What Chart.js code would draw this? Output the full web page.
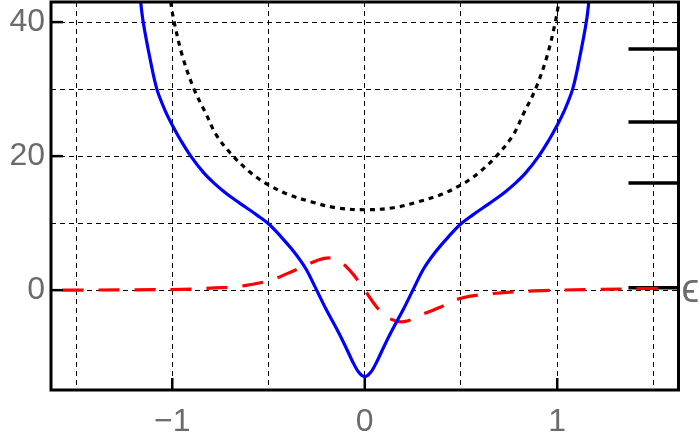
<!DOCTYPE html>
<html>
<head>
<meta charset="utf-8">
<script src="https://cdn.jsdelivr.net/npm/chart.js@4/dist/chart.umd.min.js"></script>
<style>
  html,body{margin:0;padding:0;background:#fff;}
  #wrap{width:700px;height:440px;}
</style>
</head>
<body>
<div id="wrap"><canvas id="c" width="700" height="440"></canvas></div>
<script>
'use strict';

// potential V(x) - solid blue
var potX=[-1.18,-1.164,-1.151,-1.118,-1.08,-1.034,-0.994,-0.961,-0.904,-0.836,-0.78,-0.731,-0.68,-0.62,-0.56,-0.5,-0.436,-0.367,-0.306,-0.255,-0.2,-0.142,-0.1,-0.064,-0.03,0,
          0.03,0.064,0.1,0.142,0.2,0.255,0.306,0.367,0.436,0.5,0.56,0.62,0.68,0.731,0.78,0.836,0.904,0.961,0.994,1.034,1.08,1.118,1.151,1.164,1.18];
var potY=[48,43,40,34.9,30,26.6,24.3,22.6,20,17.5,15.9,14.7,13.6,12.4,11.2,9.9,8.0,5.7,3.2,0.3,-2.9,-6,-8.4,-10.6,-12.3,-12.9,
          -12.3,-10.6,-8.4,-6,-2.9,0.3,3.2,5.7,8.0,9.9,11.2,12.4,13.6,14.7,15.9,17.5,20,22.6,24.3,26.6,30,34.9,40,43,48];

// dotted black curve
var dotX=[-1.02,-1.008,-0.99,-0.947,-0.887,-0.826,-0.77,-0.684,-0.6,-0.54,-0.5,-0.4,-0.28,-0.15,0,
          0.15,0.28,0.4,0.5,0.54,0.6,0.684,0.77,0.826,0.887,0.947,0.99,1.008,1.02];
var dotY=[46,43,40,34.9,30,26.4,23.1,20,17.7,16.4,15.7,14.3,13.2,12.3,12,
          12.3,13.2,14.3,15.7,16.4,17.7,20,23.1,26.4,30,34.9,40,43,46];

// dashed red curve
var redX=[-1.57,-1.2,-0.9,-0.78,-0.68,-0.6,-0.497,-0.4,-0.306,-0.25,-0.185,-0.125,-0.064,0,
          0.064,0.126,0.204,0.3,0.395,0.5,0.67,0.88,1.2,1.57];
var redY=[0,0.05,0.15,0.35,0.45,0.8,1.4,2.5,3.7,4.4,4.8,4.2,2.5,0,
          -2.6,-4.2,-4.7,-3.6,-2.5,-1.2,-0.5,-0.1,0.1,0.3];

// energy levels on the right
var levels=[36,25.1,16,0.35];
var levelX=[1.37,1.63];

var xGrid=[-1.5,-1,-0.5,0,0.5,1,1.5];
var xLabels=[-1,0,1];
var yGrid=[0,10,20,30,40];
var yLabels=[0,20,40];

function pts(xs,ys){return xs.map(function(x,i){return {x:x,y:ys[i]};});}

var FONT='"Liberation Sans", Arial, "DejaVu Sans", sans-serif';
var GRAY='#6b6b6b';

var datasets=[
  {data:pts(potX,potY),borderColor:'#0000ff',borderWidth:3.2,tension:0.35},
  {data:pts(redX,redY),borderColor:'#ff0000',borderWidth:3.2,borderDash:[21,15],tension:0.35},
  {data:pts(dotX,dotY),borderColor:'#000',borderWidth:3.2,borderDash:[5,5],tension:0.35}
];
levels.forEach(function(e){
  datasets.push({data:pts(levelX,[e,e]),borderColor:'#000',borderWidth:3.5,borderCapStyle:'butt'});
});

var frame={
  id:'frame',
  afterDraw:function(ch){
    var a=ch.chartArea,ctx=ch.ctx,xs=ch.scales.x,ys=ch.scales.y;
    ctx.save();
    ctx.strokeStyle='#000';
    ctx.lineWidth=2.5;
    xLabels.forEach(function(v){
      var p=xs.getPixelForValue(v);
      ctx.beginPath();ctx.moveTo(p,a.bottom);ctx.lineTo(p,a.bottom-12);ctx.stroke();
    });
    yLabels.forEach(function(v){
      var p=ys.getPixelForValue(v);
      ctx.beginPath();ctx.moveTo(a.left,p);ctx.lineTo(a.left+12,p);ctx.stroke();
    });
    ctx.lineWidth=3;
    ctx.strokeRect(a.left,a.top,a.right-a.left,a.bottom-a.top);
    // epsilon label beside the lowest level
    ctx.fillStyle=GRAY;
    ctx.font='40px '+FONT;
    ctx.textAlign='left';
    ctx.textBaseline='alphabetic';
    ctx.fillText('\u03f5',a.right+3,ys.getPixelForValue(levels[3])+14);
    ctx.restore();
  }
};

new Chart(document.getElementById('c'),{
  type:'line',
  data:{datasets:datasets},
  options:{
    responsive:false,
    animation:false,
    events:[],
    elements:{point:{radius:0}},
    layout:{padding:{top:2,right:21.5,left:0,bottom:0}},
    plugins:{legend:{display:false},tooltip:{enabled:false}},
    scales:{
      x:{
        type:'linear',min:-1.63,max:1.63,
        afterBuildTicks:function(s){s.ticks=xGrid.map(function(v){return {value:v};});},
        afterFit:function(s){s.height=50;s.paddingLeft=0;s.paddingRight=0;},
        grid:{color:'#000',lineWidth:1,drawTicks:false},
        border:{display:false,dash:[5,4]},
        ticks:{
          color:GRAY,font:{family:FONT,size:32},padding:13,maxRotation:0,autoSkip:false,
          callback:function(v){return xLabels.indexOf(v)>=0?(v<0?'\u2212'+Math.abs(v):String(v)):'';}
        }
      },
      y:{
        type:'linear',min:-14.9,max:43,
        afterBuildTicks:function(s){s.ticks=yGrid.map(function(v){return {value:v};});},
        afterFit:function(s){s.width=51;s.paddingTop=0;s.paddingBottom=0;},
        grid:{color:'#000',lineWidth:1,drawTicks:false},
        border:{display:false,dash:[5,4]},
        ticks:{
          color:GRAY,font:{family:FONT,size:32},padding:6,autoSkip:false,
          callback:function(v){return yLabels.indexOf(v)>=0?String(v):'';}
        }
      }
    }
  },
  plugins:[frame]
});
</script>
</body>
</html>
